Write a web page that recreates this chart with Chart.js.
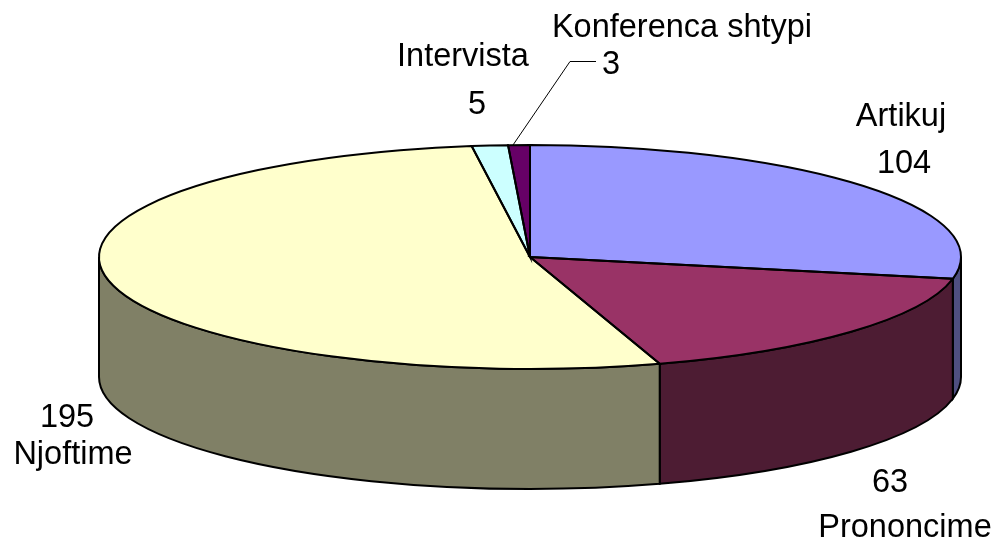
<!DOCTYPE html>
<html lang="en">
<head>
  <meta charset="UTF-8" />
  <title>Pie</title>
  <script src="https://cdn.jsdelivr.net/npm/chart.js"></script>
  <style>
    html, body { margin: 0; padding: 0; background: #fff; }
    canvas { display: block; }
  </style>
</head>
<body>
  <canvas id="pieChart" width="1000" height="548"></canvas>
  <script>
    const categories = ["Artikuj", "Prononcime", "Njoftime", "Intervista", "Konferenca shtypi"];
    const values = [104, 63, 195, 5, 3];
    const topColors = ["#9999ff", "#993366", "#ffffcc", "#ccffff", "#660066"];
    const sideColors = ["#4f4f80", "#4d1c33", "#808066", "#668080", "#330033"];

    // ellipse size on screen, pie depth
    const RX = 431, RY = 112, DEPTH = 120;

    // where each slice's name and value go: centre x, baseline y
    const namePos = [[901, 126], [905, 537], [73, 464], [463, 66], [682, 37]];
    const valuePos = [[904, 173], [890, 492], [67, 427], [477, 114], [611, 74]];

    const pie3d = {
      id: "pie3d",
      beforeDatasetsDraw(chart) {
        const ctx = chart.ctx;
        const arcs = chart.getDatasetMeta(0).data;
        const cx = arcs[0].x, cy = arcs[0].y, r = arcs[0].outerRadius;
        const sx = RX / r, sy = RY / r;

        // outer wall, only the front half of the ellipse shows
        arcs.forEach((arc, i) => {
          const a1 = Math.max(arc.startAngle, 0);
          const a2 = Math.min(arc.endAngle, Math.PI);
          if (a2 <= a1) return;
          ctx.beginPath();
          ctx.ellipse(cx, cy, RX, RY, 0, a1, a2);
          ctx.ellipse(cx, cy + DEPTH, RX, RY, 0, a2, a1, true);
          ctx.closePath();
          ctx.fillStyle = sideColors[i];
          ctx.fill();
          ctx.lineWidth = 2;
          ctx.strokeStyle = "#000";
          ctx.stroke();
        });

        // top face: library arcs, squashed into an ellipse
        ctx.save();
        ctx.translate(cx, cy);
        ctx.scale(sx, sy);
        ctx.translate(-cx, -cy);
        arcs.forEach(arc => arc.draw(ctx));
        ctx.restore();

        // slice outlines, stroked unscaled to keep the pen even
        arcs.forEach(arc => {
          ctx.beginPath();
          ctx.moveTo(cx, cy);
          ctx.ellipse(cx, cy, RX, RY, 0, arc.startAngle, arc.endAngle);
          ctx.closePath();
          ctx.lineWidth = 2;
          ctx.strokeStyle = "#000";
          ctx.stroke();
        });
        return false;
      },
      afterDraw(chart) {
        const ctx = chart.ctx;
        // leader line of the small slice
        ctx.beginPath();
        ctx.moveTo(513, 145);
        ctx.lineTo(570, 61.5);
        ctx.lineTo(596, 61.5);
        ctx.lineWidth = 1;
        ctx.strokeStyle = "#000";
        ctx.stroke();

        ctx.fillStyle = "#000";
        ctx.font = "32.5px 'Liberation Sans'";
        ctx.textAlign = "center";
        ctx.textBaseline = "alphabetic";
        categories.forEach((name, i) => {
          ctx.fillText(name, namePos[i][0], namePos[i][1]);
          ctx.fillText(String(values[i]), valuePos[i][0], valuePos[i][1]);
        });
      }
    };

    new Chart(document.getElementById("pieChart"), {
      type: "pie",
      data: {
        labels: categories,
        datasets: [{
          data: values,
          backgroundColor: topColors,
          borderWidth: 0
        }]
      },
      options: {
        responsive: false,
        animation: false,
        layout: { padding: { left: 280, right: 220, top: 7, bottom: 41 } },
        plugins: {
          legend: { display: false },
          tooltip: { enabled: false }
        }
      },
      plugins: [pie3d]
    });
  </script>
</body>
</html>
